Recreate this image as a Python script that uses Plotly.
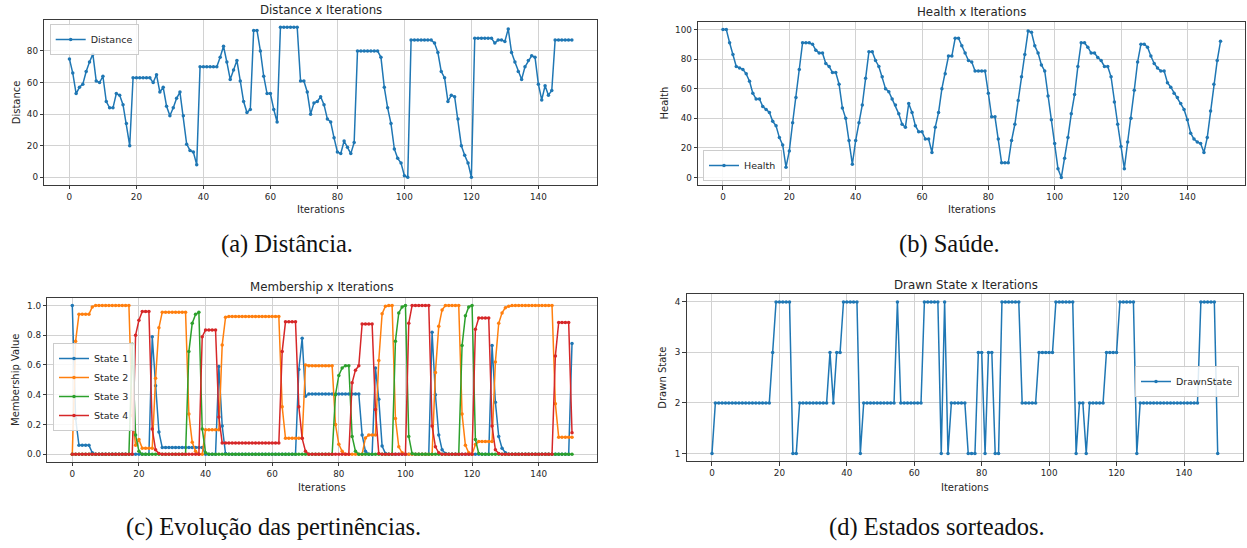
import plotly.graph_objects as go

iterations = list(range(151))

distance = [
    75, 66, 53, 57, 59, 67, 73, 78, 61, 60,
    64, 48, 44, 44, 53, 52, 46, 34, 20, 63,
    63, 63, 63, 63, 63, 60, 65, 54, 57, 45,
    39, 44, 50, 54, 39, 21, 17, 16, 8, 70,
    70, 70, 70, 70, 70, 76, 83, 73, 62, 68,
    74, 61, 48, 41, 43, 93, 93, 80, 64, 53,
    53, 43, 35, 95, 95, 95, 95, 95, 95, 61,
    61, 54, 40, 47, 48, 51, 46, 37, 35, 25,
    16, 15, 23, 19, 15, 22, 80, 80, 80, 80,
    80, 80, 80, 76, 57, 44, 34, 18, 12, 9,
    1, 0, 87, 87, 87, 87, 87, 87, 87, 85,
    79, 67, 63, 48, 52, 51, 37, 20, 14, 9,
    0, 88, 88, 88, 88, 88, 88, 85, 87, 87,
    86, 94, 79, 73, 67, 62, 70, 74, 77, 76,
    59, 49, 58, 52, 55, 87, 87, 87, 87, 87,
    87]

health = [
    100, 100, 91, 83, 75, 74, 73, 70, 65, 57,
    53, 53, 48, 46, 44, 38, 35, 27, 22, 7,
    18, 37, 54, 73, 91, 91, 91, 90, 86, 84,
    84, 77, 75, 71, 71, 63, 47, 40, 25, 9,
    25, 37, 49, 67, 85, 85, 79, 75, 68, 60,
    58, 53, 49, 43, 36, 34, 50, 44, 35, 31,
    31, 26, 26, 17, 34, 44, 60, 70, 82, 82,
    94, 94, 89, 84, 79, 78, 72, 72, 72, 72,
    57, 41, 41, 26, 10, 10, 10, 25, 36, 52,
    68, 83, 99, 98, 89, 84, 76, 72, 55, 39,
    23, 6, 0, 13, 27, 43, 56, 75, 91, 91,
    88, 84, 84, 81, 79, 75, 75, 68, 51, 36,
    21, 6, 24, 40, 59, 78, 90, 90, 88, 82,
    77, 74, 72, 72, 64, 61, 57, 54, 50, 46,
    39, 30, 26, 24, 23, 17, 27, 45, 63, 79,
    92]

state1 = [
    1.0, 0.24, 0.06, 0.06, 0.06, 0.06, 0.01, 0, 0, 0,
    0, 0, 0, 0, 0, 0, 0, 0, 0, 0,
    0, 0, 0, 0, 0.79, 0.46, 0.15, 0.045, 0.045, 0.045,
    0.045, 0.045, 0.045, 0.045, 0.045, 0.045, 0.045, 0.045, 0.045, 0.045,
    0, 0, 0, 0, 0.59, 0.19, 0.005, 0, 0, 0,
    0, 0, 0, 0, 0, 0, 0, 0, 0, 0,
    0, 0, 0, 0, 0, 0, 0, 0, 0.57, 0.78,
    0.39, 0.405, 0.405, 0.405, 0.405, 0.405, 0.405, 0.405, 0.405, 0.405,
    0.405, 0.405, 0.405, 0.405, 0.405, 0.405, 0.405, 0.13, 0.02, 0,
    0, 0.58, 0.37, 0.055, 0.005, 0, 0, 0, 0, 0,
    0, 0, 0, 0, 0, 0, 0, 0, 0.82, 0.4,
    0.13, 0.03, 0.005, 0, 0, 0, 0, 0, 0, 0,
    0, 0, 0, 0, 0, 0, 0.73, 0.35, 0.12, 0.04,
    0.01, 0, 0, 0, 0, 0, 0, 0, 0, 0,
    0, 0, 0, 0, 0, 0, 0, 0, 0, 0,
    0.745]

state2 = [
    0, 0.76, 0.94, 0.94, 0.94, 0.94, 0.99, 1, 1, 1,
    1, 1, 1, 1, 1, 1, 1, 1, 0.26, 0.06,
    0.1, 0.04, 0.04, 0.04, 0.04, 0.51, 0.85, 0.955, 0.955, 0.955,
    0.955, 0.955, 0.955, 0.955, 0.955, 0.27, 0.08, 0.02, 0, 0,
    0.165, 0.165, 0.165, 0.165, 0.165, 0.735, 0.92, 0.925, 0.925, 0.925,
    0.925, 0.925, 0.925, 0.925, 0.925, 0.925, 0.925, 0.925, 0.925, 0.925,
    0.925, 0.925, 0.925, 0.32, 0.107, 0.107, 0.107, 0.107, 0.107, 0.107,
    0.6, 0.595, 0.595, 0.595, 0.595, 0.595, 0.595, 0.595, 0.595, 0.2,
    0.067, 0.02, 0, 0, 0, 0, 0, 0, 0.11, 0.13,
    0.13, 0.13, 0.63, 0.945, 0.995, 1, 1, 0.24, 0.05, 0.01,
    0, 0, 0, 0, 0, 0, 0, 0, 0, 0.55,
    0.86, 0.97, 1, 1, 1, 1, 1, 0.27, 0.06, 0.01,
    0, 0.065, 0.085, 0.085, 0.085, 0.085, 0.085, 0.62, 0.88, 0.95,
    0.985, 0.995, 1, 1, 1, 1, 1, 1, 1, 1,
    1, 1, 1, 1, 1, 0.34, 0.115, 0.115, 0.115, 0.115,
    0.115]

state3 = [
    0, 0, 0, 0, 0, 0, 0, 0, 0, 0,
    0, 0, 0, 0, 0, 0, 0, 0, 0.74, 0.13,
    0.02, 0, 0, 0, 0, 0, 0, 0, 0, 0,
    0, 0, 0, 0, 0, 0.69, 0.88, 0.94, 0.955, 0.17,
    0.01, 0, 0, 0, 0, 0, 0, 0, 0, 0,
    0, 0, 0, 0, 0, 0, 0, 0, 0, 0,
    0, 0, 0, 0, 0, 0, 0, 0, 0, 0,
    0, 0, 0, 0, 0, 0, 0, 0, 0, 0.4,
    0.53, 0.58, 0.595, 0.595, 0.12, 0.02, 0, 0, 0, 0,
    0, 0, 0, 0, 0, 0, 0, 0.76, 0.95, 0.99,
    1.0, 0.12, 0.005, 0, 0, 0, 0, 0, 0, 0,
    0, 0, 0, 0, 0, 0, 0, 0.73, 0.93, 0.99,
    1.0, 0.1, 0.005, 0, 0, 0, 0, 0, 0, 0,
    0, 0, 0, 0, 0, 0, 0, 0, 0, 0,
    0, 0, 0, 0, 0, 0, 0, 0, 0, 0,
    0]

state4 = [
    0, 0, 0, 0, 0, 0, 0, 0, 0, 0,
    0, 0, 0, 0, 0, 0, 0, 0, 0, 0.8,
    0.9, 0.96, 0.96, 0.96, 0.17, 0.03, 0.005, 0, 0, 0,
    0, 0, 0, 0, 0, 0, 0, 0, 0, 0.79,
    0.835, 0.835, 0.835, 0.835, 0.25, 0.075, 0.075, 0.075, 0.075, 0.075,
    0.075, 0.075, 0.075, 0.075, 0.075, 0.075, 0.075, 0.075, 0.075, 0.075,
    0.075, 0.075, 0.075, 0.69, 0.89, 0.89, 0.89, 0.89, 0.32, 0.107,
    0.02, 0, 0, 0, 0, 0, 0, 0, 0, 0,
    0, 0, 0, 0, 0.48, 0.565, 0.595, 0.875, 0.875, 0.875,
    0.875, 0.3, 0.005, 0, 0, 0, 0, 0, 0, 0,
    0, 0.88, 1, 1, 1, 1, 1, 1, 0.19, 0.05,
    0.01, 0, 0, 0, 0, 0, 0, 0, 0, 0,
    0, 0.84, 0.915, 0.915, 0.915, 0.915, 0.19, 0.03, 0.005, 0,
    0, 0, 0, 0, 0, 0, 0, 0, 0, 0,
    0, 0, 0, 0, 0, 0.66, 0.885, 0.885, 0.885, 0.885,
    0.145]

drawn_state = [
    1, 2, 2, 2, 2, 2, 2, 2, 2, 2,
    2, 2, 2, 2, 2, 2, 2, 2, 3, 4,
    4, 4, 4, 4, 1, 1, 2, 2, 2, 2,
    2, 2, 2, 2, 2, 3, 2, 3, 3, 4,
    4, 4, 4, 4, 1, 2, 2, 2, 2, 2,
    2, 2, 2, 2, 2, 4, 2, 2, 2, 2,
    2, 2, 2, 4, 4, 4, 4, 4, 1, 4,
    1, 2, 2, 2, 2, 2, 1, 1, 1, 3,
    3, 1, 3, 3, 1, 1, 4, 4, 4, 4,
    4, 4, 2, 2, 2, 2, 2, 3, 3, 3,
    3, 3, 4, 4, 4, 4, 4, 4, 1, 2,
    2, 1, 2, 2, 2, 2, 2, 3, 3, 3,
    3, 4, 4, 4, 4, 4, 1, 2, 2, 2,
    2, 2, 2, 2, 2, 2, 2, 2, 2, 2,
    2, 2, 2, 2, 2, 4, 4, 4, 4, 4,
    1]

membership_names = ["State 1", "State 2", "State 3", "State 4"]
membership_colors = ["#1f77b4", "#ff7f0e", "#2ca02c", "#d62728"]
membership_series = [state1, state2, state3, state4]

for s in [distance, health, state1, state2, state3, state4, drawn_state]:
    assert len(s) == 151, len(s)

W, H = 1247, 548
def px(x):
    return x / W
def py(y):
    return 1 - y / H

BLUE = "#1f77b4"
TICKF = dict(family="DejaVu Sans", size=8.8, color="#262626")
LABF = dict(family="DejaVu Sans", size=10, color="#262626")
TITF = dict(family="DejaVu Sans", size=11.8, color="#262626")
LEGF = dict(family="DejaVu Sans", size=9.5, color="#262626")
CAPF = dict(family="Liberation Serif", size=24.5, color="#111111")

fig = go.Figure()

def add_line(x, y, name, color, ax, legend):
    fig.add_trace(go.Scatter(
        x=x, y=y, name=name, mode="lines+markers",
        line=dict(color=color, width=1.5),
        marker=dict(color=color, size=3.5),
        xaxis=ax[0], yaxis=ax[1], legend=legend, showlegend=True))

add_line(iterations, distance, "Distance", BLUE, ("x", "y"), "legend")
add_line(iterations, health, "Health", BLUE, ("x2", "y2"), "legend2")
for nm, col, ser in zip(membership_names, membership_colors, membership_series):
    add_line(iterations, ser, nm, col, ("x3", "y3"), "legend3")
add_line(iterations, drawn_state, "DrawnState", BLUE, ("x4", "y4"), "legend4")

def xax(domain, anchor):
    return dict(domain=domain, anchor=anchor, range=[-7.5, 157.5],
                tickmode="array", tickvals=[0, 20, 40, 60, 80, 100, 120, 140],
                showgrid=True, gridcolor="#d2d2d2", gridwidth=1, zeroline=False,
                showline=True, linecolor="#3a3a3a", linewidth=1, mirror=True,
                ticks="outside", ticklen=3.5, tickcolor="#3a3a3a", tickfont=TICKF)

def yax(domain, anchor, rng, tickvals, fmt=None):
    d = dict(domain=domain, anchor=anchor, range=rng,
             tickmode="array", tickvals=tickvals,
             showgrid=True, gridcolor="#d2d2d2", gridwidth=1, zeroline=False,
             showline=True, linecolor="#3a3a3a", linewidth=1, mirror=True,
             ticks="outside", ticklen=3.5, tickcolor="#3a3a3a", tickfont=TICKF)
    if fmt:
        d["tickformat"] = fmt
    return d

# plot areas in pixels: (left, top, right, bottom)
A = (44.3, 19.8, 597.0, 184.8)
B = (698.1, 22.0, 1245.4, 185.0)
C = (47.3, 298.0, 597.0, 461.7)
D = (686.7, 294.3, 1243.0, 461.0)

def dom(box):
    l, t, r, b = box
    return [px(l), px(r)], [py(b), py(t)]

ax_dx, ax_dy = dom(A)
bx_dx, bx_dy = dom(B)
cx_dx, cx_dy = dom(C)
dx_dx, dx_dy = dom(D)

legend_common = dict(bordercolor="#cccccc", borderwidth=1, bgcolor="rgba(255,255,255,0.85)",
                     font=LEGF, itemwidth=30, tracegroupgap=0)

fig.update_layout(
    width=W, height=H, margin=dict(l=0, r=0, t=0, b=0),
    paper_bgcolor="white", plot_bgcolor="white",
    xaxis=xax(ax_dx, "y"), yaxis=yax(ax_dy, "x", [-4.75, 99.75], [0, 20, 40, 60, 80]),
    xaxis2=xax(bx_dx, "y2"), yaxis2=yax(bx_dy, "x2", [-5, 105], [0, 20, 40, 60, 80, 100]),
    xaxis3=xax(cx_dx, "y3"), yaxis3=yax(cx_dy, "x3", [-0.05, 1.05], [0, 0.2, 0.4, 0.6, 0.8, 1.0], ".1f"),
    xaxis4=xax(dx_dx, "y4"), yaxis4=yax(dx_dy, "x4", [0.85, 4.15], [1, 2, 3, 4]),
    legend=dict(x=px(49.7), y=py(24), xanchor="left", yanchor="top", **legend_common),
    legend2=dict(x=px(703), y=py(181), xanchor="left", yanchor="bottom", **legend_common),
    legend3=dict(x=px(53), y=py(343), xanchor="left", yanchor="top", **legend_common),
    legend4=dict(x=px(1239), y=py(366), xanchor="right", yanchor="top", **legend_common),
)

annotations = []
def ann(text, x, y, font, angle=0):
    annotations.append(dict(text=text, x=px(x), y=py(y), xref="paper", yref="paper",
                            xanchor="center", yanchor="middle", showarrow=False,
                            font=font, textangle=angle))

# titles
ann("Distance x Iterations", 320.6, 10, TITF)
ann("Health x Iterations", 971.7, 12, TITF)
ann("Membership x Iterations", 322, 286.7, TITF)
ann("Drawn State x Iterations", 965.8, 285, TITF)
# x labels
ann("Iterations", 320.6, 210, LABF)
ann("Iterations", 971.7, 210, LABF)
ann("Iterations", 322, 487, LABF)
ann("Iterations", 965, 487, LABF)
# y labels
ann("Distance", 16, 102.3, LABF, -90)
ann("Health", 664, 103.5, LABF, -90)
ann("Membership Value", 15, 380, LABF, -90)
ann("Drawn State", 663, 377.7, LABF, -90)
# captions
ann("(a) Distância.", 287, 244, CAPF)
ann("(b) Saúde.", 949, 244, CAPF)
ann("(c) Evolução das pertinências.", 273, 527, CAPF)
ann("(d) Estados sorteados.", 937, 527, CAPF)

fig.update_layout(annotations=annotations)
fig.write_html("out.html")
